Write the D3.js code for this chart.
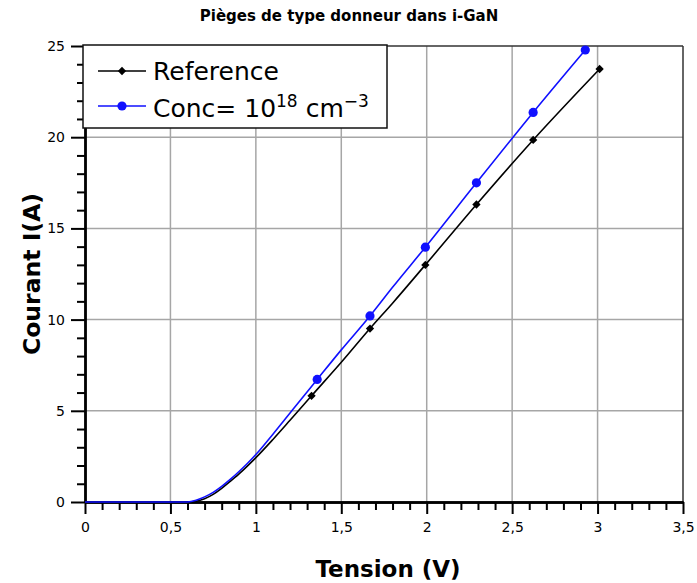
<!DOCTYPE html>
<html>
<head>
<meta charset="utf-8">
<script src="https://cdn.jsdelivr.net/npm/d3@7"></script>
<style>
  html, body { margin: 0; padding: 0; background: #fff; }
  svg { display: block; }
</style>
</head>
<body>
<svg id="chart" width="697" height="583"></svg>
<script>
// I-V curves: reference device vs donor traps at 1e18 cm^-3 in i-GaN
const refX = [0, 0.5, 0.6, 0.65, 0.7, 0.75, 0.8, 0.85, 0.9, 0.95, 1.0, 1.1, 1.2, 1.326, 1.5, 1.668, 1.8, 1.992, 2.291, 2.623, 3.012];
const refY = [0, 0, 0, 0.04, 0.18, 0.42, 0.75, 1.13, 1.53, 1.97, 2.43, 3.43, 4.48, 5.82, 7.66, 9.51, 10.9, 13.0, 16.31, 19.85, 23.74];
const refMarkX = [1.326, 1.668, 1.992, 2.291, 2.623, 3.012];
const refMarkY = [5.82, 9.51, 13.0, 16.31, 19.85, 23.74];

const concX = [0, 0.5, 0.58, 0.62, 0.65, 0.7, 0.75, 0.8, 0.85, 0.9, 0.95, 1.0, 1.1, 1.2, 1.359, 1.5, 1.668, 1.8, 1.992, 2.291, 2.623, 2.928];
const concY = [0, 0, 0, 0.03, 0.1, 0.28, 0.53, 0.86, 1.24, 1.66, 2.11, 2.6, 3.72, 4.88, 6.72, 8.34, 10.2, 11.77, 13.97, 17.5, 21.36, 24.78];
const concMarkX = [1.359, 1.668, 1.992, 2.291, 2.623, 2.928];
const concMarkY = [6.72, 10.2, 13.97, 17.5, 21.36, 24.78];

const xMajorTicks = [0, 0.5, 1, 1.5, 2, 2.5, 3, 3.5];
const xTickLabels = ["0", "0,5", "1", "1,5", "2", "2,5", "3", "3,5"];
const yMajorTicks = [0, 5, 10, 15, 20, 25];

const titleText = "Pièges de type donneur dans i-GaN";
const xTitle = "Tension (V)";
const yTitle = "Courant I(A)";

const svg = d3.select("#chart");
const font = "'DejaVu Sans', Verdana, sans-serif";

const x = d3.scaleLinear().domain([0, 3.5]).range([85, 683]);
const y = d3.scaleLinear().domain([0, 25]).range([502, 46]);

// grid
const grid = svg.append("g");
grid.selectAll("line.gx").data(xMajorTicks.slice(1, -1)).join("line")
  .attr("x1", d => x(d)).attr("x2", d => x(d))
  .attr("y1", y(0)).attr("y2", y(25))
  .attr("stroke", "#a6a6a6").attr("stroke-width", 1.5);
grid.selectAll("line.gy").data(yMajorTicks.slice(1, -1)).join("line")
  .attr("x1", x(0)).attr("x2", x(3.5))
  .attr("y1", d => y(d)).attr("y2", d => y(d))
  .attr("stroke", "#a6a6a6").attr("stroke-width", 1.5);

// top and right frame
svg.append("line").attr("x1", x(0)).attr("x2", x(3.5)).attr("y1", y(25)).attr("y2", y(25))
  .attr("stroke", "#333").attr("stroke-width", 1.5);
svg.append("line").attr("x1", x(3.5)).attr("x2", x(3.5)).attr("y1", y(25)).attr("y2", y(0))
  .attr("stroke", "#333").attr("stroke-width", 1.5);

// axes
const xMinor = d3.range(0, 36).map(i => i / 10).filter(v => !xMajorTicks.some(m => Math.abs(m - v) < 1e-9));
const yMinor = d3.range(0, 26).filter(v => !yMajorTicks.includes(v));

const xAxisMinor = svg.append("g").attr("transform", `translate(0,${y(0)})`)
  .call(d3.axisBottom(x).tickValues(xMinor).tickFormat("").tickSize(8).tickSizeOuter(0));
const yAxisMinor = svg.append("g").attr("transform", `translate(${x(0)},0)`)
  .call(d3.axisLeft(y).tickValues(yMinor).tickFormat("").tickSize(8).tickSizeOuter(0));
const xAxis = svg.append("g").attr("transform", `translate(0,${y(0)})`)
  .call(d3.axisBottom(x).tickValues(xMajorTicks).tickFormat((d, i) => xTickLabels[i]).tickSize(12).tickSizeOuter(0).tickPadding(8));
const yAxis = svg.append("g").attr("transform", `translate(${x(0)},0)`)
  .call(d3.axisLeft(y).tickValues(yMajorTicks).tickSize(14).tickSizeOuter(0).tickPadding(6));

[xAxis, xAxisMinor, yAxis, yAxisMinor].forEach(g => {
  g.select(".domain").attr("stroke", "#000").attr("stroke-width", 2.4);
  g.selectAll(".tick line").attr("stroke", "#000").attr("stroke-width", 2);
  g.selectAll("text").attr("font-family", font).attr("font-size", 14).attr("fill", "#000");
});

// data lines
const line = d3.line().x(d => x(d[0])).y(d => y(d[1])).curve(d3.curveMonotoneX);
const refPts = refX.map((v, i) => [v, refY[i]]);
const concPts = concX.map((v, i) => [v, concY[i]]);

svg.append("path").datum(refPts).attr("d", line)
  .attr("fill", "none").attr("stroke", "#000").attr("stroke-width", 1.6);
svg.append("path").datum(concPts).attr("d", line)
  .attr("fill", "none").attr("stroke", "#1010ff").attr("stroke-width", 1.6);

const diamond = d3.symbol().type(d3.symbolDiamond2).size(44);
svg.selectAll("path.refm").data(refMarkX.map((v, i) => [v, refMarkY[i]])).join("path")
  .attr("d", diamond).attr("transform", d => `translate(${x(d[0])},${y(d[1])})`)
  .attr("fill", "#000");
svg.selectAll("circle.concm").data(concMarkX.map((v, i) => [v, concMarkY[i]])).join("circle")
  .attr("cx", d => x(d[0])).attr("cy", d => y(d[1])).attr("r", 4.6)
  .attr("fill", "#1010ff");

// legend
const lg = svg.append("g");
lg.append("rect").attr("x", 83).attr("y", 45).attr("width", 304).attr("height", 83)
  .attr("fill", "#fff").attr("stroke", "#111").attr("stroke-width", 1.5);
const legendItems = [
  { color: "#000", marker: "diamond", y: 71 },
  { color: "#1010ff", marker: "circle", y: 106 }
];
legendItems.forEach(it => {
  lg.append("line").attr("x1", 98).attr("x2", 146).attr("y1", it.y).attr("y2", it.y)
    .attr("stroke", it.color).attr("stroke-width", 1.6);
  if (it.marker === "diamond") {
    lg.append("path").attr("d", diamond).attr("transform", `translate(122,${it.y})`).attr("fill", it.color);
  } else {
    lg.append("circle").attr("cx", 122).attr("cy", it.y).attr("r", 4.6).attr("fill", it.color);
  }
});
lg.append("text").attr("x", 153).attr("y", 80)
  .attr("font-family", font).attr("font-size", 25).attr("fill", "#000").text("Reference");
const t2 = lg.append("text").attr("x", 153).attr("y", 117)
  .attr("font-family", font).attr("font-size", 25).attr("fill", "#000");
t2.append("tspan").text("Conc= 10");
t2.append("tspan").attr("dy", -10).attr("font-size", 17).text("18");
t2.append("tspan").attr("dy", 10).text(" cm");
t2.append("tspan").attr("dy", -10).attr("font-size", 17).text("−3");

// titles
svg.append("text").attr("x", 349).attr("y", 21).attr("text-anchor", "middle")
  .attr("font-family", font).attr("font-size", 15).attr("font-weight", "bold").text(titleText);
svg.append("text").attr("x", 388).attr("y", 577).attr("text-anchor", "middle")
  .attr("font-family", font).attr("font-size", 23).attr("font-weight", "bold").text(xTitle);
svg.append("text").attr("transform", `translate(40,${(y(0) + y(25)) / 2}) rotate(-90)`)
  .attr("text-anchor", "middle")
  .attr("font-family", font).attr("font-size", 23.5).attr("font-weight", "bold").text(yTitle);
</script>
</body>
</html>
